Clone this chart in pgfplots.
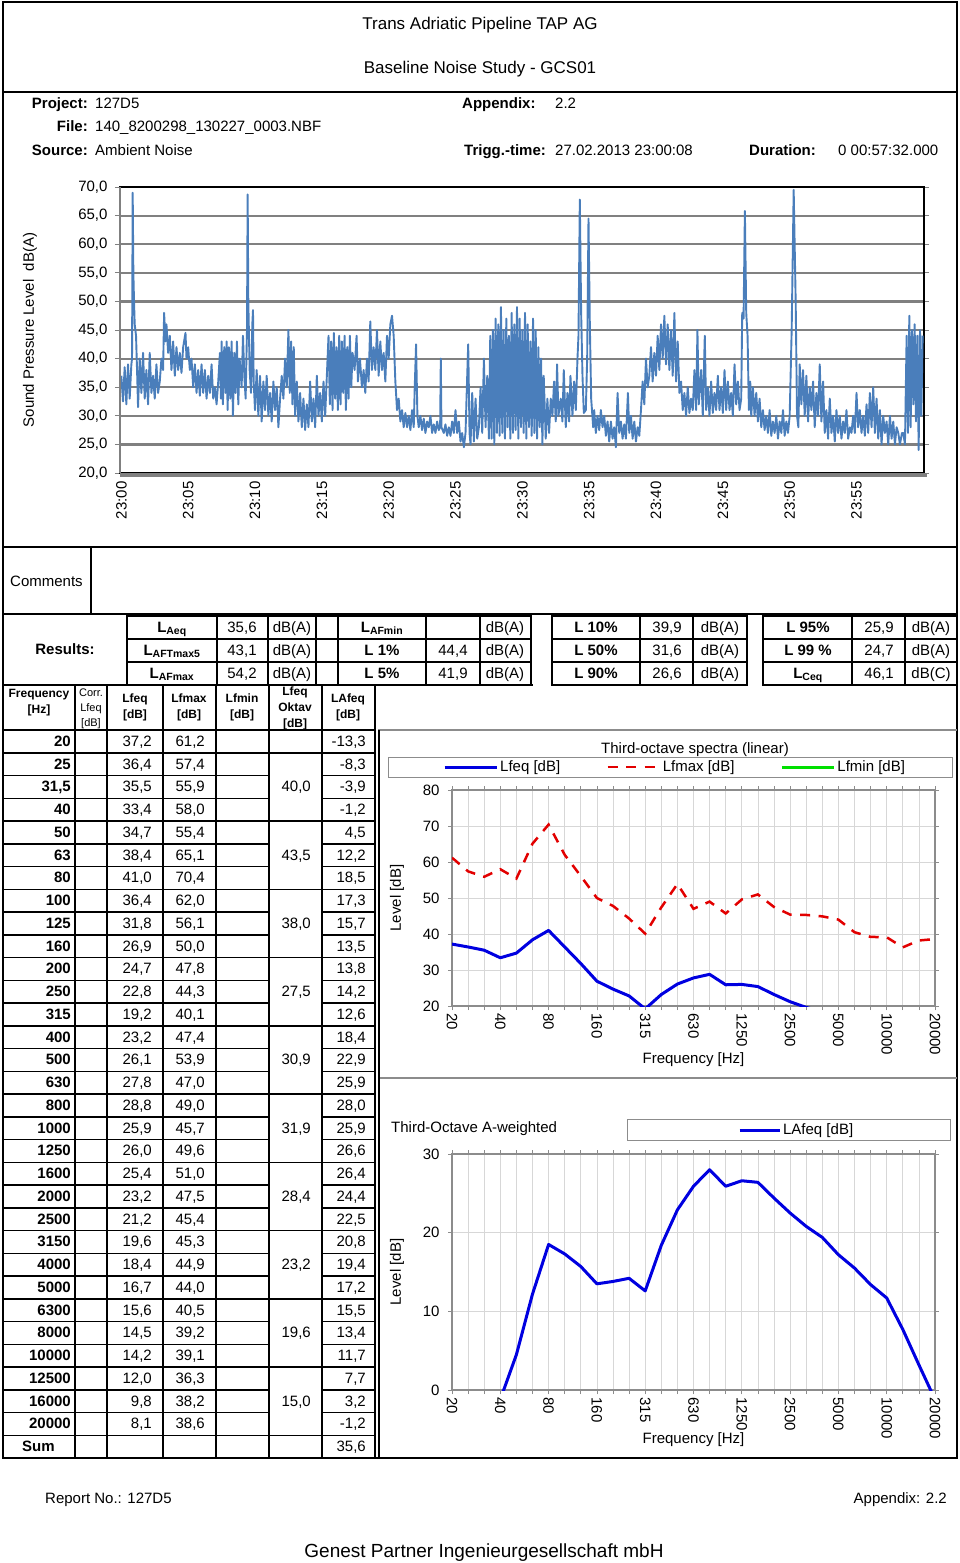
\documentclass[border=0pt]{standalone}
\usepackage{fontspec}
\setmainfont{Liberation Sans}
\usepackage{pgfplots}
\pgfplotsset{compat=1.18}

\definecolor{tsblue}{RGB}{74,126,187}
\definecolor{tsgrid}{RGB}{128,128,128}
\definecolor{frgray}{RGB}{140,140,140}
\definecolor{vgrid}{RGB}{215,215,215}
\definecolor{specblue}{RGB}{0,0,224}
\definecolor{specred}{RGB}{226,0,0}
\definecolor{specgreen}{RGB}{0,224,0}

\newcommand{\fs}[1]{\fontsize{#1}{#1}\selectfont}

\pgfplotsset{
  every axis/.append style={/pgf/number format/assume math mode=true},
  freqaxis/.style={
    scale only axis, width=483pt,
    xmin=0, xmax=30,
    xtick={0,3,...,30},
    xticklabels={20,40,80,160,315,630,1250,2500,5000,10000,20000},
    minor xtick={0,1,...,30},
    xmajorgrids, xminorgrids, ymajorgrids,
    major grid style={vgrid, line width=0.8pt},
    minor grid style={vgrid, line width=0.8pt},
    axis line style={frgray, line width=1.6pt},
    tick style={frgray, line width=0.8pt},
    major tick length=4pt, minor tick length=4pt,
    tick align=outside,
    tick label style={font=\fs{15}},
    xticklabel style={rotate=-90, anchor=west},
    yticklabel style={xshift=-5pt},
    label style={font=\fs{15}},
    ylabel={Level [dB]},
    xlabel={Frequency [Hz]},
    legend cell align=left,
  }
}

\begin{document}
\begin{tikzpicture}[x=1pt,y=-1pt, tx/.style={inner sep=0pt, font=\fs{15}}]
\useasboundingbox (0,0) rectangle (960,1563);

% ---------- frames ----------
\draw[line width=2pt] (3,2) rectangle (957,1458);
\draw[line width=2pt] (3,92) -- (957,92);
\draw[line width=2pt] (3,547) -- (957,547);
\draw[line width=2pt] (91,547) -- (91,614);
\draw[line width=2pt] (3,614) -- (957,614);

% ---------- header ----------
\node[tx, font=\fs{17}, anchor=base] at (480,30) {Trans Adriatic Pipeline TAP AG};
\node[tx, font=\fs{17}, anchor=base] at (480,74) {Baseline Noise Study - GCS01};
\node[tx, font=\fs{15}\bfseries, anchor=base east] at (88,108) {Project:};
\node[tx, anchor=base west] at (95,108) {127D5};
\node[tx, font=\fs{15}\bfseries, anchor=base east] at (88,131) {File:};
\node[tx, anchor=base west] at (95,131) {140\_8200298\_130227\_0003.NBF};
\node[tx, font=\fs{15}\bfseries, anchor=base east] at (88,155) {Source:};
\node[tx, anchor=base west] at (95,155) {Ambient Noise};
\node[tx, font=\fs{15}\bfseries, anchor=base west] at (462,108) {Appendix:};
\node[tx, anchor=base west] at (555,108) {2.2};
\node[tx, font=\fs{15}\bfseries, anchor=base west] at (464,155) {Trigg.-time:};
\node[tx, anchor=base west] at (555,155) {27.02.2013 23:00:08};
\node[tx, font=\fs{15}\bfseries, anchor=base west] at (749,155) {Duration:};
\node[tx, anchor=base west] at (838,155) {0 00:57:32.000};

% ---------- time history ----------
\begin{scope}[x=1cm,y=1cm]
\begin{axis}[
  name=ts,
  at={(120pt,-473pt)}, anchor=south west,
  scale only axis, width=804pt, height=286pt,
  xmin=-0.1, xmax=60.05, ymin=20, ymax=70,
  xtick={0,5,...,55},
  xticklabels={23:00,23:05,23:10,23:15,23:20,23:25,23:30,23:35,23:40,23:45,23:50,23:55},
  ytick={20,25,...,70},
  yticklabel style={xshift=-4pt, /pgf/number format/.cd, fixed, fixed zerofill, precision=1, use comma},
  ymajorgrids, major grid style={tsgrid, line width=2.2pt},
  axis line style={black, line width=1.5pt},
  x tick style={draw=none}, y tick style={tsgrid, line width=1pt},
  tick align=outside, major tick length=5pt,
  tick label style={font=\fs{15}},
  xticklabel style={rotate=90, anchor=east},
  ylabel={Sound Pressure Level\ \ dB(A)},
  ylabel style={font=\fs{15}, at={(axis description cs:-0.112,0.5)}, anchor=center},
]
\addplot[tsblue, line width=1.9pt, line join=round, mark=none] coordinates {
(0,37)(0.125,32.5)(0.25,38.5)(0.375,32)(0.5,39)(0.625,33)(0.75,39)(0.8,40)(0.85,69)(0.9,55)(0.95,50)(1.0,46)(1.1,44)(1.2,36)(1.25,31.5)
(1.375,40)(1.5,34)(1.625,41)(1.75,33)(1.875,38)(2.0,32)(2.125,41)(2.25,34)(2.375,37)(2.5,33)(2.625,39)(2.75,34)(2.875,36)
(3.0,40)(3.125,38)(3.2,48)(3.3,43)(3.375,46)(3.5,41)(3.625,44)(3.75,38)(3.875,43)(4.0,37)(4.125,42)(4.25,38)(4.375,41)(4.5,37.5)(4.625,42)(4.8,44.5)(4.875,40)(5.0,42)(5.125,38)(5.25,40)
(5.375,35)(5.5,39)(5.625,34)(5.75,38)(5.875,33.5)(6.0,39)(6.125,34)(6.25,38)(6.375,33)(6.5,37)(6.625,34)(6.75,39)(6.875,33)(7.0,35)(7.125,32)(7.25,36)
(7.375,41)(7.45,33)(7.5,43)(7.6,32)(7.7,42)(7.8,34)(7.875,43)(7.95,31)(8.05,42)(8.15,33)(8.25,43)(8.35,30)(8.45,41)(8.55,34)(8.65,43)(8.75,32)(8.85,40)
(9.0,35)(9.1,44)(9.2,37)(9.3,33)(9.4,45)(9.45,68.7)(9.5,50)(9.6,38)(9.7,34)(9.8,46)(9.85,48.5)(9.9,36)(10.0,31)
(10.125,38)(10.25,30)(10.375,37)(10.5,29)(10.625,36)(10.75,31)(10.875,37)(11.0,30)(11.125,34)(11.25,29)(11.375,36)(11.5,31)(11.625,35)(11.75,28)(11.875,33)
(12.0,37)(12.125,33)(12.25,40)(12.375,35)(12.5,45)(12.6,34)(12.7,43)(12.8,32)(12.9,42)
(13.0,30)(13.125,36)(13.25,29)(13.375,34)(13.5,28)(13.625,33)(13.75,27.5)(13.875,32)(14.0,28)(14.125,36)(14.25,29)(14.375,33)(14.5,28)(14.625,37)(14.75,30)(14.875,34)(15.0,29)(15.125,36)(15.25,30)(15.375,37)
(15.5,44)(15.6,32)(15.7,43)(15.8,31)(15.9,44.5)(16.0,33)(16.1,42)(16.2,31)(16.3,44)(16.4,32)(16.5,43)(16.6,34)(16.7,44)(16.8,31)(16.9,42)(17.0,33)(17.1,44)(17.2,35)(17.3,41)
(17.45,38)(17.6,44)(17.7,36)(17.85,40)(18.0,35)(18.125,38)(18.25,34)(18.375,40)(18.5,36)
(18.625,46.5)(18.75,38)(18.875,42)(19.0,38)(19.125,45)(19.25,37)(19.375,43)(19.5,38)(19.625,41)(19.75,36)(19.875,44)(20.0,40)(20.125,46)(20.25,47.5)(20.375,44)
(20.5,36)(20.625,31)(20.75,33)(20.875,29)(21.0,31)(21.125,28)(21.25,30.5)(21.375,28)(21.5,30)
(21.625,27.5)(21.75,31)(21.875,28)(21.95,35)(22.05,42.5)(22.15,30)(22.25,28)(22.375,30)(22.5,27.5)(22.625,29.5)(22.75,27)(22.875,29)(23.0,28)(23.125,30)(23.25,27)(23.375,28.5)(23.5,27)(23.625,29)(23.75,27.5)(23.85,28)(23.9,40)(23.95,28)(24.125,27)(24.25,28.5)(24.375,26.5)(24.5,28)(24.625,26.5)(24.75,29)(24.875,27)(25.0,31)(25.125,27)(25.25,29)(25.375,25.5)(25.5,27)(25.625,24.5)(25.75,27)(25.85,35)(25.95,42.5)(26.05,27)(26.125,25)(26.25,34)(26.375,25.5)(26.5,33)(26.625,26)(26.75,28)
(26.875,35)(27.0,27)(27.125,40)(27.25,28)(27.375,37)(27.5,26)
(27.6,44)(27.7,26)(27.8,45)(27.9,25)(28.0,47)(28.1,27)(28.2,46)(28.3,26.5)(28.4,49)(28.5,27)(28.6,45)(28.7,26)(28.8,47)(28.9,28)(29.0,44)(29.1,26)(29.2,48)(29.3,27)(29.4,46)(29.5,27.5)(29.6,49)(29.7,26)(29.8,47)(29.9,28)(30.0,45)(30.1,27)(30.2,48)(30.3,26)(30.4,46)(30.5,28)(30.6,43)(30.7,26.5)(30.8,47)(30.9,27)(31.0,45)(31.1,26)(31.2,42)(31.3,28)(31.4,40)(31.5,25)(31.6,37)
(31.75,26)(31.875,33)(32.0,27)(32.125,33)(32.25,30)(32.375,36)(32.5,29)(32.6,39)(32.7,30)(32.875,33)(33.0,29)(33.1,38)(33.25,28)(33.375,34)(33.5,29)(33.6,37)(33.75,30)(33.875,36)(34.0,31)(34.125,40)
(34.2,44)(34.3,67.8)(34.4,48)(34.5,37)(34.6,30.5)(34.75,31)(34.85,40)(34.95,64.5)(35.05,46)(35.15,33)(35.3,28)
(35.375,31)(35.5,27)(35.625,30)(35.75,27.5)(35.875,31)(36.0,28)(36.125,30)(36.25,26.5)(36.375,29)(36.5,25.5)(36.625,29)(36.75,26)(36.875,28)(37.0,24.5)(37.125,34)(37.25,27)(37.375,29)(37.5,26)(37.625,28.5)(37.75,26)(37.9,34)(38.0,27)(38.125,30)(38.25,26)(38.375,29)(38.5,25.5)(38.625,28)(38.75,26.5)
(38.875,31)(39.0,36)(39.125,32)(39.25,40)(39.375,35)(39.5,37)
(39.625,42)(39.75,36)(39.875,41)(40.0,37)(40.125,44)(40.25,38)(40.375,46)(40.5,40)(40.625,47.5)(40.75,39)(40.875,46)(41.0,38)(41.125,45)(41.25,37)(41.375,48)(41.5,36)(41.625,43)(41.75,34)
(41.875,36)(42.0,31)(42.125,34)(42.25,30)(42.375,35)(42.5,30.5)(42.625,33)(42.75,31)(42.875,38)(43.0,31)(43.1,45)(43.2,32)(43.375,38)(43.5,30)(43.65,44)(43.75,31)(43.875,35)(44.0,30)(44.125,36)(44.25,30.5)(44.375,34)(44.5,31)(44.625,37)(44.75,31)(44.875,35)(45.0,30.5)(45.125,38)(45.25,31)(45.375,36)(45.5,31)(45.625,34)(45.75,30)(45.875,39)(46.0,32)(46.125,36)(46.25,31)(46.375,33)
(46.45,48)(46.55,47)(46.65,65.8)(46.75,48)(46.85,44)(46.95,31)(47.05,36)
(47.125,30)(47.25,35)(47.375,30)(47.5,34)(47.625,29)(47.75,33)(47.875,28)(48.0,31)(48.125,27.5)(48.25,30)(48.375,27)(48.5,31)(48.625,26.5)(48.75,29)(48.875,27)(49.0,30)(49.125,26)(49.25,29)(49.375,27)(49.5,31)(49.625,26.5)(49.75,29)(49.875,27)(50.0,30)
(50.15,45)(50.3,69.5)(50.45,50)(50.55,30)(50.65,28)
(50.75,39)(50.875,32)(51.0,38)(51.125,30)(51.25,37)(51.375,29)(51.5,35)(51.625,31)(51.75,36)(51.875,28)(52.0,34)(52.125,30)(52.25,39)(52.375,29)(52.5,36)(52.625,27)
(52.75,31)(52.875,26)(53.0,33)(53.125,27)(53.25,30)(53.375,25.5)(53.5,31)(53.625,27)(53.75,30)(53.875,26)(54.0,29)(54.125,27)(54.25,31)(54.375,26)(54.5,28)(54.625,27)(54.75,30)(54.875,27)(55.0,34)(55.125,28)(55.25,31)(55.375,27)(55.5,30)(55.625,26.5)(55.75,32)(55.875,27)(56.0,34)(56.125,28)(56.25,35)(56.375,27)(56.5,33)(56.625,26)(56.75,31)(56.875,25)(57.0,30)(57.125,27)(57.25,29)(57.375,25)(57.5,30)(57.625,26)(57.75,29)(57.875,25)(58.0,28)(58.125,27)(58.25,25)(58.4,27)
(58.5,27)(58.625,25)(58.75,44)(58.85,27)(58.95,47.5)(59.05,28)(59.15,45)(59.25,32)(59.35,46)(59.45,29)(59.55,44)(59.65,24)(59.75,45)(59.85,30)(59.95,44)
};
\end{axis}
\end{scope}
\draw[tsgrid, line width=4pt] ([yshift=-2pt]ts.south west) -- ([yshift=-2pt,xshift=3pt]ts.south east);
\draw[tsgrid, line width=2pt] (ts.south west) -- (ts.north west);

% ---------- comments / results ----------
\node[tx, anchor=base west] at (10,586) {Comments};
\node[tx, font=\fs{15}\bfseries, anchor=base] at (65,654) {Results:};

\foreach \xa/\xb/\xc/\xd in {127/217/268/316, 316/338/338/338, 338/426/480/531, 552/640/693/747, 763/852/905/957}{
  \draw[line width=1.5pt] (\xa,616) rectangle (\xd,685);
  \draw[line width=1.5pt] (\xa,639) -- (\xd,639) (\xa,662) -- (\xd,662);
  \draw[line width=1.5pt] (\xb,616) -- (\xb,685) (\xc,616) -- (\xc,685);
}
\begin{scope}[every node/.style={tx, anchor=base}]
\node[font=\fs{15}\bfseries] at (172,632) {L\textsubscript{Aeq}};
\node[font=\fs{15}\bfseries] at (172,655) {L\textsubscript{AFTmax5}};
\node[font=\fs{15}\bfseries] at (172,678) {L\textsubscript{AFmax}};
\node at (242,632) {35,6}; \node at (242,655) {43,1}; \node at (242,678) {54,2};
\node at (292,632) {dB(A)}; \node at (292,655) {dB(A)}; \node at (292,678) {dB(A)};
\node[font=\fs{15}\bfseries] at (382,632) {L\textsubscript{AFmin}};
\node[font=\fs{15}\bfseries] at (382,655) {L 1\%};
\node[font=\fs{15}\bfseries] at (382,678) {L 5\%};
\node at (453,655) {44,4}; \node at (453,678) {41,9};
\node at (505,632) {dB(A)}; \node at (505,655) {dB(A)}; \node at (505,678) {dB(A)};
\node[font=\fs{15}\bfseries] at (596,632) {L 10\%};
\node[font=\fs{15}\bfseries] at (596,655) {L 50\%};
\node[font=\fs{15}\bfseries] at (596,678) {L 90\%};
\node at (667,632) {39,9}; \node at (667,655) {31,6}; \node at (667,678) {26,6};
\node at (720,632) {dB(A)}; \node at (720,655) {dB(A)}; \node at (720,678) {dB(A)};
\node[font=\fs{15}\bfseries] at (808,632) {L 95\%};
\node[font=\fs{15}\bfseries] at (808,655) {L 99 \%};
\node[font=\fs{15}\bfseries] at (808,678) {L\textsubscript{Ceq}};
\node at (879,632) {25,9}; \node at (879,655) {24,7}; \node at (879,678) {46,1};
\node at (931,632) {dB(A)}; \node at (931,655) {dB(A)}; \node at (931,678) {dB(C)};
\end{scope}

% ---------- frequency table ----------
\draw[line width=2pt] (3,685) -- (533,685);
\draw[line width=2pt] (3,730) -- (375,730);
\foreach \xv in {75,107,163,216,269,322,375}{
  \draw[line width=1.5pt] (\xv,685) -- (\xv,1458);
}
\foreach \j in {1,...,31}{
  \pgfmathsetmacro{\yl}{730+22.75*\j}
  \draw[line width=1.5pt] (3,\yl) -- (269,\yl) (322,\yl) -- (375,\yl);
}
\foreach \j in {1,4,...,31}{
  \pgfmathsetmacro{\yl}{730+22.75*\j}
  \draw[line width=1.5pt] (269,\yl) -- (322,\yl);
}
\begin{scope}[every node/.style={tx, anchor=base}]
\node[font=\fs{12}\bfseries] at (39,697) {Frequency};
\node[font=\fs{12}\bfseries] at (39,713) {[Hz]};
\node[font=\fs{11}] at (91,696) {Corr.};
\node[font=\fs{11}] at (91,711) {Lfeq};
\node[font=\fs{11}] at (91,726) {[dB]};
\node[font=\fs{12}\bfseries] at (135,702) {Lfeq};
\node[font=\fs{12}\bfseries] at (135,718) {[dB]};
\node[font=\fs{12}\bfseries] at (189,702) {Lfmax};
\node[font=\fs{12}\bfseries] at (189,718) {[dB]};
\node[font=\fs{12}\bfseries] at (242,702) {Lfmin};
\node[font=\fs{12}\bfseries] at (242,718) {[dB]};
\node[font=\fs{12}\bfseries] at (295,695) {Lfeq};
\node[font=\fs{12}\bfseries] at (295,711) {Oktav};
\node[font=\fs{12}\bfseries] at (295,727) {[dB]};
\node[font=\fs{12}\bfseries] at (348,702) {LAfeq};
\node[font=\fs{12}\bfseries] at (348,718) {[dB]};
\end{scope}

\foreach \f/\a/\b/\c [count=\i from 0] in {
 20/{37,2}/{61,2}/{-13,3}, 25/{36,4}/{57,4}/{-8,3}, {31,5}/{35,5}/{55,9}/{-3,9},
 40/{33,4}/{58,0}/{-1,2}, 50/{34,7}/{55,4}/{4,5}, 63/{38,4}/{65,1}/{12,2},
 80/{41,0}/{70,4}/{18,5}, 100/{36,4}/{62,0}/{17,3}, 125/{31,8}/{56,1}/{15,7},
 160/{26,9}/{50,0}/{13,5}, 200/{24,7}/{47,8}/{13,8}, 250/{22,8}/{44,3}/{14,2},
 315/{19,2}/{40,1}/{12,6}, 400/{23,2}/{47,4}/{18,4}, 500/{26,1}/{53,9}/{22,9},
 630/{27,8}/{47,0}/{25,9}, 800/{28,8}/{49,0}/{28,0}, 1000/{25,9}/{45,7}/{25,9},
 1250/{26,0}/{49,6}/{26,6}, 1600/{25,4}/{51,0}/{26,4}, 2000/{23,2}/{47,5}/{24,4},
 2500/{21,2}/{45,4}/{22,5}, 3150/{19,6}/{45,3}/{20,8}, 4000/{18,4}/{44,9}/{19,4},
 5000/{16,7}/{44,0}/{17,2}, 6300/{15,6}/{40,5}/{15,5}, 8000/{14,5}/{39,2}/{13,4},
 10000/{14,2}/{39,1}/{11,7}, 12500/{12,0}/{36,3}/{7,7}, 16000/{9,8}/{38,2}/{3,2},
 20000/{8,1}/{38,6}/{-1,2}}{
  \pgfmathsetmacro{\yb}{746.4+22.75*\i}
  \node[tx, font=\fs{15}\bfseries, anchor=base east] at (71,\yb) {\f};
  \node[tx, anchor=base east] at (152,\yb) {\a};
  \node[tx, anchor=base east] at (205,\yb) {\b};
  \node[tx, anchor=base east] at (366,\yb) {\c};
}
\foreach \r/\v in {2/{40,0}, 5/{43,5}, 8/{38,0}, 11/{27,5}, 14/{30,9}, 17/{31,9}, 20/{28,4}, 23/{23,2}, 26/{19,6}, 29/{15,0}}{
  \pgfmathsetmacro{\yb}{746.4+22.75*\r}
  \node[tx, anchor=base east] at (311,\yb) {\v};
}
\node[tx, font=\fs{15}\bfseries, anchor=base west] at (22,1451.6) {Sum};
\node[tx, anchor=base east] at (366,1451.6) {35,6};

% ---------- chart panel frame ----------
\draw[frgray, line width=1.5pt] (378,730) -- (957,730);
\draw[frgray, line width=1.5pt] (378,1078) -- (957,1078);
\draw[line width=1.5pt] (379,730) -- (379,1458);

% ---------- third-octave linear ----------
\node[tx, anchor=base] at (695,753) {Third-octave spectra (linear)};
\draw[frgray, line width=1pt] (388,757) rectangle (952,777);
\begin{scope}[x=1cm,y=1cm]
\begin{axis}[
  freqaxis,
  at={(452pt,-1006pt)}, anchor=south west, height=216pt,
  ymin=20, ymax=80, ytick={20,30,...,80},
  ylabel style={at={(axis description cs:-0.114,0.5)}, anchor=center},
  xlabel style={at={(axis description cs:0.5,-0.25)}, anchor=center},
  legend columns=3,
  legend image code/.code={\draw[#1] (0pt,0pt) -- (52pt,0pt);},
  legend style={draw=none, fill=none, at={(-0.0186,1.1065)}, anchor=west, inner sep=0pt,
    font=\fs{15}, /tikz/every even column/.append style={column sep=44pt}},
]
\addplot[specblue, line width=3pt, line join=round] coordinates {
(0,37.2)(1,36.4)(2,35.5)(3,33.4)(4,34.7)(5,38.4)(6,41.0)(7,36.4)(8,31.8)(9,26.9)(10,24.7)(11,22.8)(12,19.2)(13,23.2)(14,26.1)(15,27.8)(16,28.8)(17,25.9)(18,26.0)(19,25.4)(20,23.2)(21,21.2)(22,19.6)(23,18.4)(24,16.7)(25,15.6)(26,14.5)(27,14.2)(28,12.0)(29,9.8)(30,8.1)};
\addlegendentry{Lfeq [dB]}
\addplot[specred, line width=2.5pt, dash pattern=on 10pt off 8.5pt] coordinates {
(0,61.2)(1,57.4)(2,55.9)(3,58.0)(4,55.4)(5,65.1)(6,70.4)(7,62.0)(8,56.1)(9,50.0)(10,47.8)(11,44.3)(12,40.1)(13,47.4)(14,53.9)(15,47.0)(16,49.0)(17,45.7)(18,49.6)(19,51.0)(20,47.5)(21,45.4)(22,45.3)(23,44.9)(24,44.0)(25,40.5)(26,39.2)(27,39.1)(28,36.3)(29,38.2)(30,38.6)};
\addlegendentry{Lfmax [dB]}
\addlegendimage{specgreen, line width=3pt}
\addlegendentry{Lfmin [dB]}
\end{axis}
\end{scope}

% ---------- third-octave A-weighted ----------
\node[tx, anchor=base west] at (391,1132) {Third-Octave A-weighted};
\draw[frgray, line width=1pt] (627,1119) rectangle (950,1140);
\begin{scope}[x=1cm,y=1cm]
\begin{axis}[
  freqaxis,
  at={(452pt,-1390pt)}, anchor=south west, height=236pt,
  ymin=0, ymax=30, ytick={0,10,20,30},
  ylabel style={at={(axis description cs:-0.114,0.5)}, anchor=center},
  xlabel style={at={(axis description cs:0.5,-0.212)}, anchor=center},
  legend image code/.code={\draw[#1] (0pt,0pt) -- (40pt,0pt);},
  legend style={draw=none, fill=none, at={(0.592,1.1017)}, anchor=west, inner sep=0pt, font=\fs{15}},
]
\addplot[specblue, line width=3pt, line join=round] coordinates {
(0,-13.3)(1,-8.3)(2,-3.9)(3,-1.2)(4,4.5)(5,12.2)(6,18.5)(7,17.3)(8,15.7)(9,13.5)(10,13.8)(11,14.2)(12,12.6)(13,18.4)(14,22.9)(15,25.9)(16,28.0)(17,25.9)(18,26.6)(19,26.4)(20,24.4)(21,22.5)(22,20.8)(23,19.4)(24,17.2)(25,15.5)(26,13.4)(27,11.7)(28,7.7)(29,3.2)(30,-1.2)};
\addlegendentry{LAfeq [dB]}
\end{axis}
\end{scope}

% ---------- footer ----------
\node[tx, anchor=base west] at (45,1503) {Report No.: 127D5};
\node[tx, anchor=base east] at (947,1503) {Appendix: 2.2};
\node[tx, font=\fs{19}, anchor=base] at (484,1557) {Genest Partner Ingenieurgesellschaft mbH};
\end{tikzpicture}
\end{document}
